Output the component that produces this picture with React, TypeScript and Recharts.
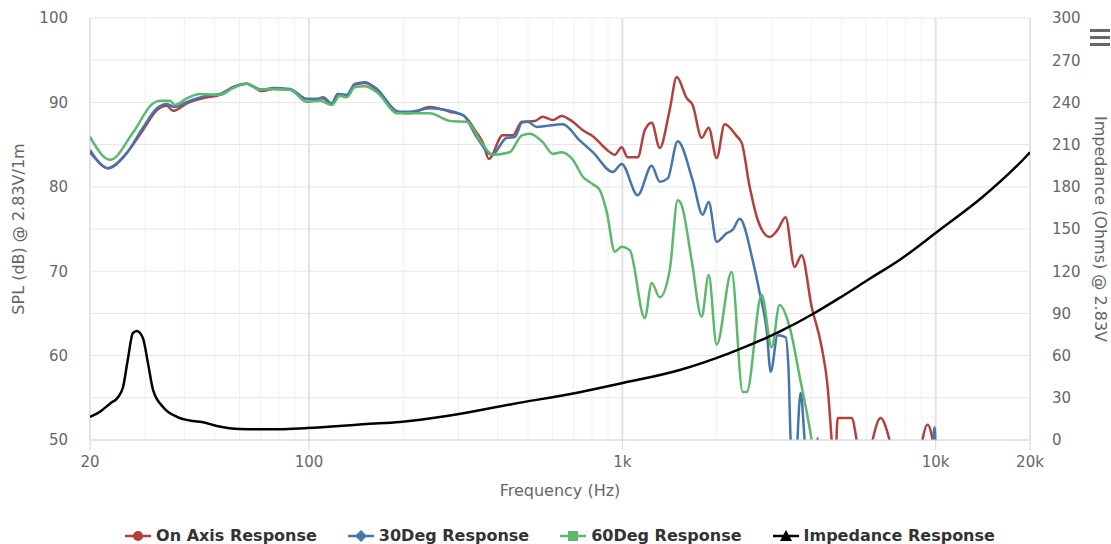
import React from 'react';
import { LineChart, Line, XAxis, YAxis, CartesianGrid, ReferenceLine } from 'recharts';

// frequency (Hz), level (dB SPL)
const onAxis: [number, number][] = [
  [20, 84.1], [20.75, 83.4], [22.8, 82.2], [24.6, 82.9], [26.2, 84.0], [29.5, 86.7], [32.7, 89.1],
  [35.2, 89.6], [36.8, 89.0], [40.8, 89.9], [47.2, 90.6], [52, 90.9], [57.2, 91.8], [63.4, 92.2],
  [66.2, 91.9], [70.7, 91.35], [76.7, 91.6], [86.9, 91.5], [98.5, 90.4], [106, 90.4], [110.8, 90.5],
  [118.3, 89.8], [123.6, 91.0], [132, 90.8], [140, 92.1], [150.7, 92.3], [164.7, 91.5], [192, 88.9],
  [210, 88.7], [243, 89.45], [281.5, 88.9], [310, 88.5], [343, 86.4], [359, 85.2], [375, 83.3],
  [415, 86.1], [447, 86.1], [478, 87.7], [526, 87.8], [557, 88.3], [600, 87.9], [640, 88.4],
  [695, 87.7], [748, 86.7], [805, 86.0], [892, 84.4], [946, 83.8], [995, 84.7], [1040, 83.5],
  [1120, 83.5], [1179, 86.7], [1241, 87.6], [1316, 84.6], [1416, 89.1], [1491, 93.0], [1605, 90.5],
  [1676, 89.7], [1791, 85.8], [1886, 87.0], [2000, 83.4], [2120, 87.4], [2317, 86.0], [2404, 85.2],
  [2549, 80.0], [2703, 76.1], [2953, 74.05], [3131, 74.9], [3318, 76.4], [3546, 70.5], [3733, 71.9],
  [4019, 65.8], [4327, 61.0], [4521, 56.3], [4656, 50], [4760, 45], [4865, 52.6], [5123, 52.6],
  [5393, 52.6], [5594, 50], [5900, 44], [6290, 50], [6671, 52.6], [7125, 50], [7668, 44], [8690, 44],
  [9079, 50], [9418, 51.8], [9772, 50], [10064, 44],
];

const deg30: [number, number][] = [
  [20, 84.36], [22.8, 82.2], [26.2, 84.0], [29.5, 87.0], [32.7, 89.3], [35.2, 89.8], [37.3, 89.45],
  [40.8, 90.05], [47.2, 90.8], [52, 91.0], [57.2, 91.8], [63.4, 92.2], [66.2, 91.9], [70.7, 91.5],
  [76.7, 91.7], [86.9, 91.6], [98.5, 90.4], [106, 90.4], [110.8, 90.6], [118.3, 89.9], [123.6, 91.0],
  [132, 90.9], [140, 92.2], [150.7, 92.4], [164.7, 91.6], [192, 88.9], [210, 88.9], [243, 89.3],
  [310, 88.5], [343, 85.9], [383, 83.8], [428, 85.8], [454, 85.9], [478, 87.6], [499, 87.7],
  [533, 87.1], [645, 87.4], [731, 85.5], [805, 84.1], [932, 81.75], [995, 82.7], [1120, 79.0],
  [1241, 82.5], [1316, 80.6], [1396, 81.0], [1502, 85.4], [1676, 80.8], [1804, 76.7], [1886, 78.2],
  [2000, 73.5], [2151, 74.5], [2249, 74.9], [2369, 76.2], [2606, 71.3], [2745, 67.4], [2888, 63.0],
  [2975, 58.1], [3131, 62.4], [3318, 62.2], [3392, 58.3], [3444, 50], [3546, 45], [3706, 55.6],
  [3817, 50], [3902, 45], [4100, 45], [4200, 50.2], [4300, 45], [9600, 44], [9917, 51.5], [10064, 44],
];

const deg60: [number, number][] = [
  [20, 85.9], [23.2, 83.2], [27.4, 86.4], [31.8, 89.9], [33.4, 90.2], [36, 90.2], [37.3, 89.7],
  [40.8, 90.5], [44.9, 91.0], [52, 90.9], [57.2, 91.7], [63.4, 92.2], [69.7, 91.5], [76.7, 91.6],
  [86.9, 91.5], [98.5, 90.05], [108.4, 90.2], [118.3, 89.7], [125.5, 90.8], [132, 90.6], [140, 91.8],
  [150.7, 91.9], [164.7, 91.2], [192, 88.7], [243, 88.7], [281.5, 87.8], [319, 87.7], [351, 85.55],
  [386, 83.8], [437, 84.1], [478, 86.1], [506, 86.3], [557, 85.3], [600, 83.9], [640, 84.1],
  [695, 83.2], [748, 81.2], [805, 80.3], [847, 79.6], [892, 77.0], [946, 72.3], [995, 72.9],
  [1056, 72.5], [1179, 64.45], [1241, 68.6], [1316, 66.9], [1416, 70.1], [1502, 78.4], [1547, 77.8],
  [1664, 71.3], [1791, 64.6], [1886, 69.55], [2000, 61.3], [2232, 69.9], [2422, 55.7], [2494, 55.7],
  [2784, 67.2], [2996, 61.0], [3175, 66.0], [3418, 63.4], [3681, 57.5], [4019, 50], [4200, 45],
  [4500, 40],
];

// frequency (Hz), impedance (Ohms)
const impedance: [number, number][] = [
  [20, 16.4], [21.5, 20], [23.2, 26], [24.6, 30.6], [25.5, 37.7], [26.4, 57], [27.4, 76], [28.2, 77.5],
  [29.5, 72.5], [30.6, 55], [31.8, 35.5], [34.2, 23.5], [37.9, 16.4], [42.6, 13.5], [45.5, 12.8],
  [50.8, 10], [60.2, 7.8], [73.4, 7.6], [98.5, 8.5], [153, 11.4], [195, 12.8], [275, 17], [447, 25.6],
  [731, 34], [1003, 40.5], [1525, 49.8], [2200, 61.8], [3175, 77], [4108, 90.3], [4935, 101],
  [6152, 114.6], [7668, 128], [10287, 149.3], [14110, 172.7], [19640, 202.6], [20000, 204.5],
];

const freqTicks = [
  20, 30, 40, 50, 60, 70, 80, 90, 100, 200, 300, 400, 500, 600, 700, 800, 900,
  1000, 2000, 3000, 4000, 5000, 6000, 7000, 8000, 9000, 10000, 20000,
];
const freqLabels: Record<number, string> = { 20: '20', 100: '100', 1000: '1k', 10000: '10k', 20000: '20k' };
const majorFreqs = [20, 100, 1000, 10000, 20000];
const splTicks = [50, 60, 70, 80, 90, 100];
const ohmTicks = [0, 30, 60, 90, 120, 150, 180, 210, 240, 270, 300];

const toRows = (pts: [number, number][]) => pts.map(([f, v]) => ({ f, v }));

const series = [
  { name: 'On Axis Response', data: onAxis, color: '#b1413d', axis: 'spl', symbol: 'circle' },
  { name: '30Deg Response', data: deg30, color: '#4674ad', axis: 'spl', symbol: 'diamond' },
  { name: '60Deg Response', data: deg60, color: '#5cb86b', axis: 'spl', symbol: 'square' },
  { name: 'Impedance Response', data: impedance, color: '#000000', axis: 'ohm', symbol: 'triangle' },
];

const FONT = '"DejaVu Sans", sans-serif';

const FreqTick = (props: any) => {
  const { x, y, payload } = props;
  const label = freqLabels[payload.value];
  if (!label) return <g />;
  return (
    <g>
      <line x1={x} x2={x} y1={y} y2={y + 10} stroke="#ccd6eb" />
      <text x={x} y={y + 27} textAnchor="middle" fill="#666" fontSize={15} fontFamily={FONT}>{label}</text>
    </g>
  );
};

const AxisTitle = ({ viewBox, text, side }: any) => {
  if (!viewBox) return null;
  if (side === 'bottom') {
    const cx = viewBox.x + viewBox.width / 2;
    return <text x={cx} y={viewBox.y + 56} textAnchor="middle" fill="#666" fontSize={16} fontFamily={FONT}>{text}</text>;
  }
  const cy = viewBox.y + viewBox.height / 2;
  const cx = side === 'left' ? viewBox.x + 18 : viewBox.x + 70;
  const angle = side === 'left' ? -90 : 90;
  return (
    <text x={cx} y={cy} transform={`rotate(${angle}, ${cx}, ${cy})`} textAnchor="middle"
      dominantBaseline="central" fill="#666" fontSize={16} fontFamily={FONT}>{text}</text>
  );
};

const Symbol = ({ kind, color }: { kind: string; color: string }) => (
  <svg width={26} height={14} style={{ marginRight: 5 }}>
    <line x1={0} x2={26} y1={7} y2={7} stroke={color} strokeWidth={2.5} />
    {kind === 'circle' && <circle cx={13} cy={7} r={5} fill={color} />}
    {kind === 'diamond' && <path d="M13 1 L19 7 L13 13 L7 7 Z" fill={color} />}
    {kind === 'square' && <rect x={8} y={2} width={10} height={10} fill={color} />}
    {kind === 'triangle' && <path d="M13 1 L19 12 L7 12 Z" fill={color} />}
  </svg>
);

export default function App() {
  return (
    <div style={{ position: 'relative', width: 1111, height: 544, overflow: 'hidden', fontFamily: FONT, background: '#fff' }}>
      <style>{'body{margin:0;overflow:hidden}'}</style>
      <LineChart width={1111} height={544} margin={{ top: 18, right: 0, bottom: 0, left: 0 }}>
        <CartesianGrid xAxisId="freq" yAxisId="ohm" horizontal={false} stroke="#f0f0f0" />
        <CartesianGrid xAxisId="freq" yAxisId="ohm" vertical={false} stroke="#e6e6e6" />
        {majorFreqs.map((f) => (
          <ReferenceLine key={f} x={f} xAxisId="freq" yAxisId="spl" stroke="#e3e3e3" strokeWidth={2} />
        ))}
        <XAxis
          xAxisId="freq" dataKey="f" type="number" scale="log" domain={[20, 20000]} allowDataOverflow
          ticks={freqTicks} interval={0} tick={<FreqTick />} tickLine={false} tickSize={0} tickMargin={0}
          axisLine={{ stroke: '#ccd6eb' }} height={104}
          label={{ content: (p: any) => <AxisTitle {...p} text="Frequency (Hz)" side="bottom" /> }}
        />
        <YAxis
          yAxisId="spl" orientation="left" domain={[50, 100]} ticks={splTicks} allowDataOverflow
          width={90} axisLine={false} tickLine={false} tickSize={0} tickMargin={22}
          tick={{ fill: '#666', fontSize: 15, fontFamily: FONT }}
          label={{ content: (p: any) => <AxisTitle {...p} text="SPL (dB) @ 2.83V/1m" side="left" /> }}
        />
        <YAxis
          yAxisId="ohm" orientation="right" domain={[0, 300]} ticks={ohmTicks} allowDataOverflow
          width={81} axisLine={false} tickLine={false} tickSize={0} tickMargin={22}
          tick={{ fill: '#666', fontSize: 15, fontFamily: FONT }}
          label={{ content: (p: any) => <AxisTitle {...p} text="Impedance (Ohms) @ 2.83V" side="right" /> }}
        />
        {series.map((s) => (
          <Line
            key={s.name} name={s.name} xAxisId="freq" yAxisId={s.axis} data={toRows(s.data)} dataKey="v"
            type="monotone" stroke={s.color} strokeWidth={2.5} dot={false} isAnimationActive={false}
          />
        ))}
      </LineChart>
      <div style={{ position: 'absolute', left: 0, width: 1120, top: 526, height: 20, display: 'flex', justifyContent: 'center', alignItems: 'center', gap: 31 }}>
        {series.map((s) => (
          <div key={s.name} style={{ display: 'flex', alignItems: 'center', fontWeight: 'bold', fontSize: 16, lineHeight: '20px', color: '#333' }}>
            <Symbol kind={s.symbol} color={s.color} />
            <span>{s.name}</span>
          </div>
        ))}
      </div>
      <div style={{ position: 'absolute', left: 1090, top: 29 }}>
        {[0, 1, 2].map((i) => (
          <div key={i} style={{ width: 20, height: 3, background: '#666', marginBottom: 4 }} />
        ))}
      </div>
    </div>
  );
}
